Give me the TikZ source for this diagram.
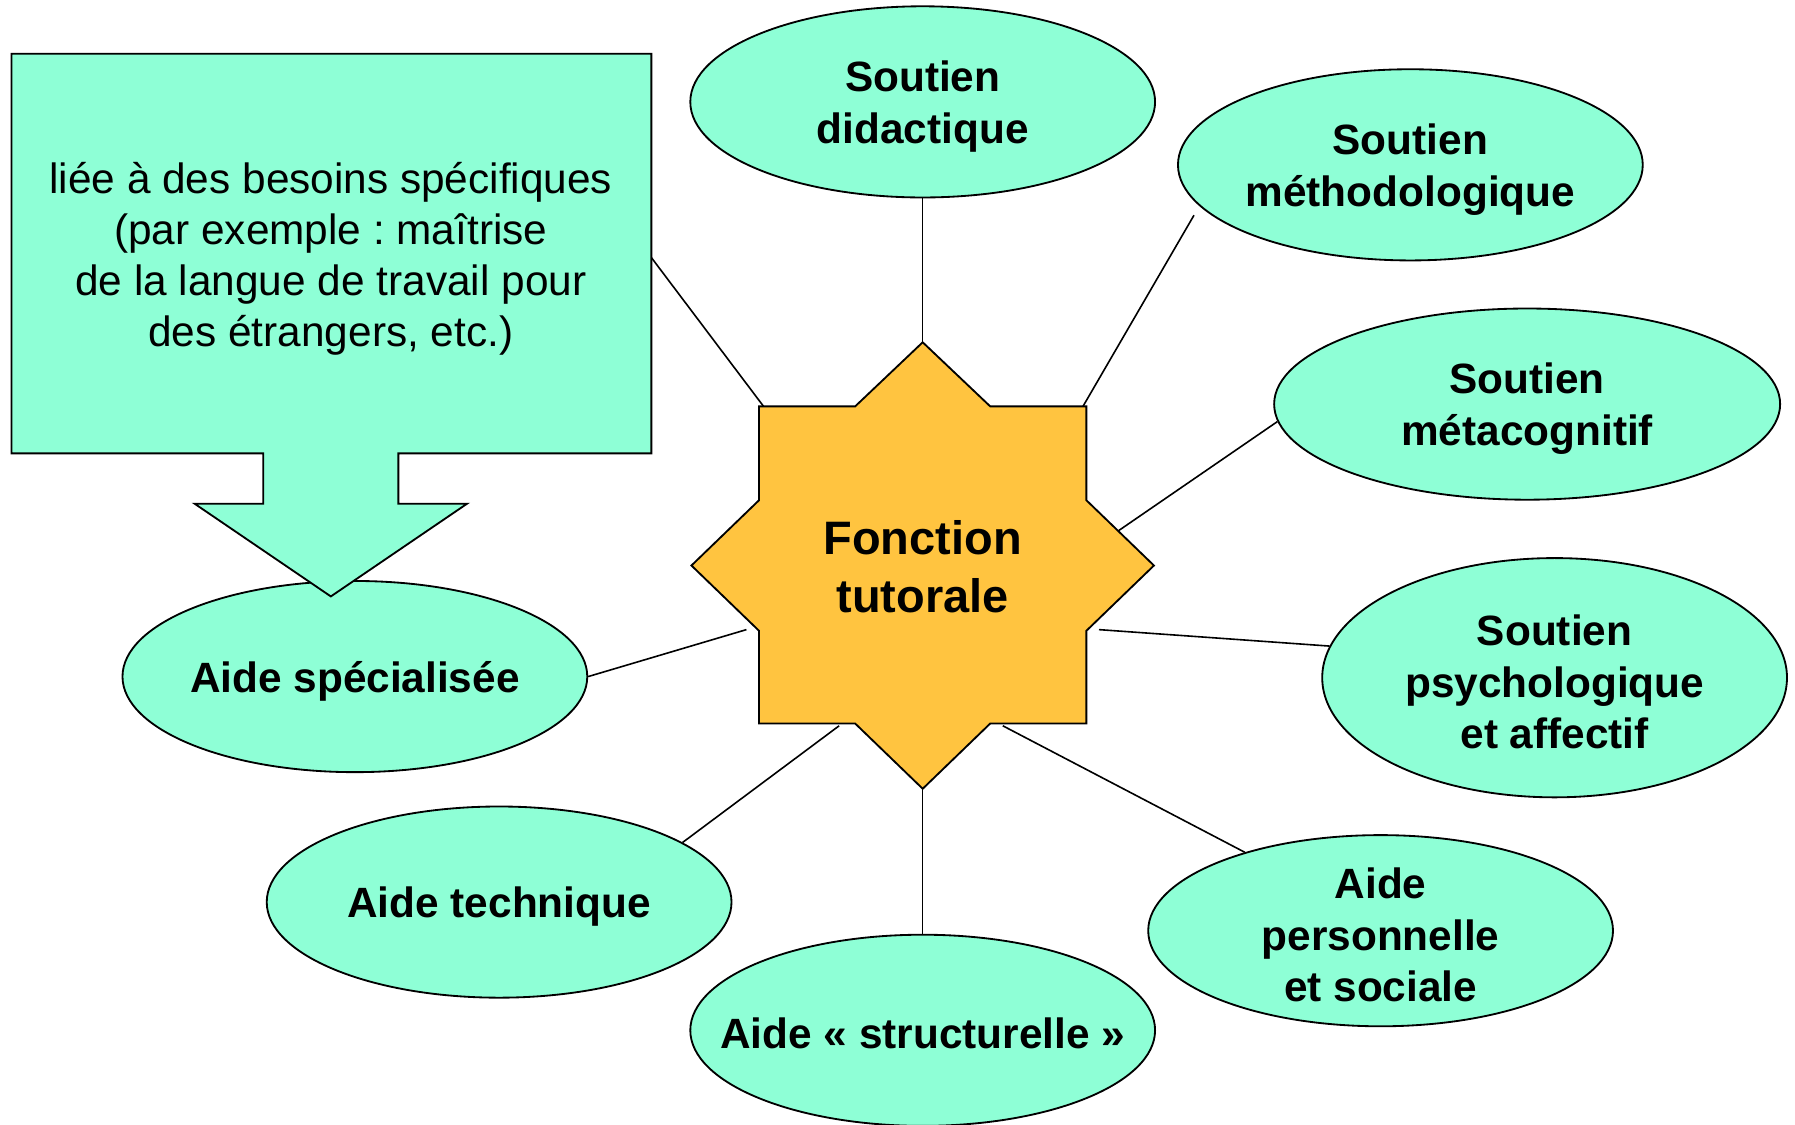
\documentclass[tikz,border=0pt]{standalone}
\usepackage{fontspec}
\setmainfont{Liberation Sans}
\frenchspacing
\usetikzlibrary{shapes.geometric}
\definecolor{mint}{RGB}{142,255,214}
\definecolor{starorange}{RGB}{255,196,64}
\tikzset{
  bubble/.style={ellipse, draw=black, line width=1.6pt, fill=mint, inner sep=0pt,
    minimum width=406pt, minimum height=167pt},
  bubbletext/.style={align=center, inner sep=0pt, font=\bfseries\fontsize{37}{45}\selectfont},
  link/.style={draw=black, line width=1.4pt},
  shapeline/.style={draw=black, line width=1.6pt}
}
\begin{document}
\begin{tikzpicture}[x=1pt,y=-1pt]
\useasboundingbox (0,0) rectangle (1568,982);
% star coordinates for connector ends
\coordinate (sN) at (806,299);
\coordinate (sS) at (806,689);
\coordinate (sNE) at (946,355);
\coordinate (sE1) at (975,465);
\coordinate (sE2) at (960,550);
\coordinate (sSE) at (876,634);
\coordinate (sSW) at (733,634);
\coordinate (sW) at (652,550);
\coordinate (sNW) at (667,355);
\coordinate (boxE) at (569,225);
\coordinate (methE) at (1043,188);
% ellipses
\node[bubble] (did) at (806,89) {};
\node[bubble] (meth) at (1232,144) {};
\node[bubble, minimum width=442pt] (meta) at (1334,353) {};
\node[bubble, minimum height=209pt] (psy) at (1358,592) {};
\node[bubble] (pers) at (1206,813) {};
\node[bubble] (struct) at (806,900) {};
\node[bubble] (tech) at (436,788) {};
\node[bubble] (spec) at (310,591) {};
\node[bubbletext] (didT) at ([yshift=-4pt]did.center) {Soutien\\didactique};
\node[bubbletext] (methT) at ([yshift=-4pt]meth.center) {Soutien\\méthodologique};
\node[bubbletext] (metaT) at ([yshift=-4pt]meta.center) {Soutien\\métacognitif};
\node[bubbletext] (psyT) at ([yshift=-4pt]psy.center) {Soutien\\psychologique\\et affectif};
\node[bubbletext] (persT) at ([yshift=-4pt]pers.center) {Aide\\personnelle\\et sociale};
\node[bubbletext] (structT) at ([yshift=-3pt]struct.center) {Aide «~structurelle~»};
\node[bubbletext] (techT) at ([yshift=-4pt]tech.center) {Aide technique};
\node[bubbletext] (specT) at ([yshift=-4pt]spec.center) {Aide spécialisée};
% connectors
\draw[link] (did.south) -- (sN);
\draw[link] (methE) -- (sNE);
\draw[link] (meta.184) -- (sE1);
\draw[link] (psy.172) -- (sE2);
\draw[link] (pers.150.7) -- (sSE);
\draw[link] (struct.north) -- (sS);
\draw[link] (tech.18.9) -- (sSW);
\draw[link] (spec.east) -- (sW);
\draw[link] (boxE) -- (sNW);
% star
\draw[shapeline, fill=starorange]
  (806,299) -- (865,355) -- (949,355) -- (949,437) -- (1008,494) -- (949,551)
  -- (949,632) -- (865,632) -- (806,689) -- (747,632) -- (663,632) -- (663,551)
  -- (604,494) -- (663,437) -- (663,355) -- (747,355) -- cycle;
\node[align=center, font=\bfseries\fontsize{41}{51}\selectfont] (star) at (806,495) {Fonction\\tutorale};
% callout box with arrow
\draw[shapeline, fill=mint]
  (10,47) -- (569,47) -- (569,396) -- (348,396) -- (348,440) -- (408,440)
  -- (289,521) -- (170,440) -- (230,440) -- (230,396) -- (10,396) -- cycle;
\node[align=center, font=\fontsize{37}{44.5}\selectfont] (boxtext) at (289,226)
  {liée à des besoins spécifiques\\(par exemple : maîtrise\\de la langue de travail pour\\des étrangers, etc.)};
\end{tikzpicture}
\end{document}
